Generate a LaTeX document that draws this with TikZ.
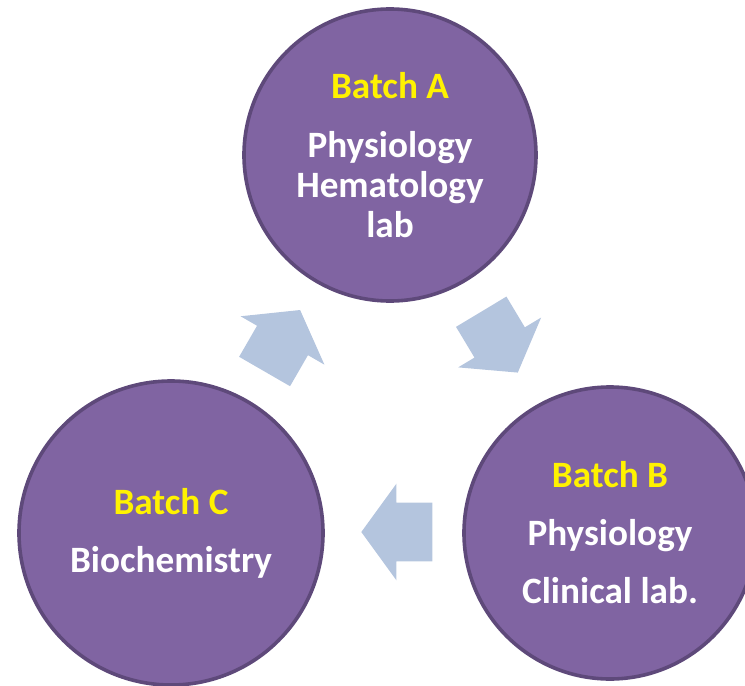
\documentclass[tikz,border=0pt]{standalone}
\usepackage{fontspec}
\setmainfont{Carlito}
\usepackage{tikz}
\usetikzlibrary{shapes.arrows}

\definecolor{batchfill}{RGB}{128,100,162}
\definecolor{batchline}{RGB}{94,73,122}
\definecolor{cyclearrow}{RGB}{180,197,222}

\begin{document}
\begin{tikzpicture}[x=0.5pt, y=-0.5pt,
    batch/.style={circle, fill=batchfill, draw=batchline, line width=1.8pt, inner sep=0pt,
        text=white, align=center, font=\fontsize{18.6}{20}\selectfont\bfseries},
    cyclearr/.style={single arrow, fill=cyclearrow, draw=none, inner sep=0pt,
        minimum height=35.5pt, minimum width=48pt, single arrow head extend=9.5pt,
        single arrow tip angle=108, single arrow head indent=0pt}]

            \useasboundingbox (0,0) rectangle (745,686);
            \clip (0,0) rectangle (745,686);

            \node[batch, minimum size=146pt] (batchA) at (390,155)
                {\textcolor{yellow}{Batch A}\\[9.5pt] Physiology\\ Hematology\\ lab};
            \node[batch, minimum size=146pt] (batchB) at (610,533)
                {\textcolor{yellow}{Batch B}\\[9pt] Physiology\\[9pt] Clinical lab.};
            \node[batch, minimum size=152pt] (batchC) at (171,533)
                {\textcolor{yellow}{Batch C}\\[9pt] Biochemistry};

            % block arrows, shaft width from the strut
            \node[cyclearr, rotate=-59] (arrAB) at (494,333) {\rule{0pt}{29pt}};
            \node[cyclearr, rotate=180] (arrBC) at (407.5,532) {\rule{0pt}{29pt}};
            \node[cyclearr, rotate=60] (arrCA) at (277,350) {\rule{0pt}{29pt}};
        \end{tikzpicture}
\end{document}
